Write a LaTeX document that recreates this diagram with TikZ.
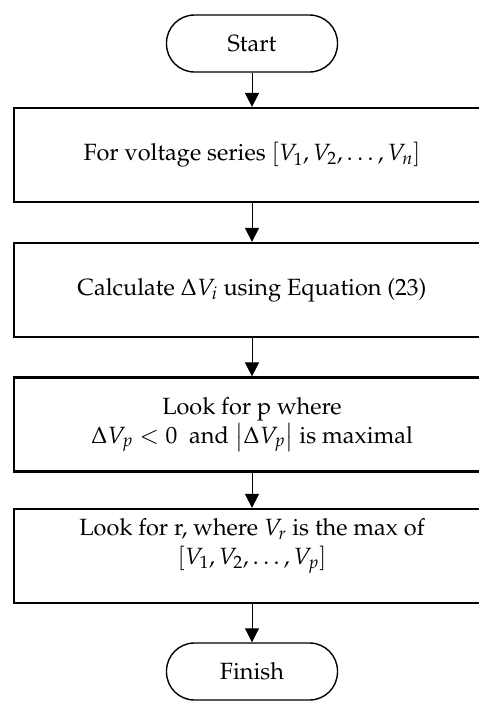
\documentclass[tikz,border=0pt]{standalone}
\usepackage[T1]{fontenc}
\usepackage{mathpazo}
\usepackage{amsmath,amssymb}
\usepackage{xcolor}
\usepackage{tikz}
\usetikzlibrary{arrows.meta, positioning}

\begin{document}
\begin{tikzpicture}[
    x=1pt, y=-1pt,
    font=\fontsize{23.5}{29}\selectfont,
    term/.style={rectangle, rounded corners=28pt, draw=black, line width=1.4pt,
                 minimum width=171pt, minimum height=57pt, align=center},
    proc/.style={rectangle, draw=black, line width=2.2pt,
                 minimum width=476pt, minimum height=94pt, align=center},
    arr/.style={-{Triangle[length=14pt, width=14pt]}, line width=1pt, black}
  ]
    \clip (0,0) rectangle (479,702);

    %% ── Terminals and process steps
    \node[term] (start)  at (252, 43.5)  {Start};
    \node[proc] (series) at (252, 155)   {For voltage series $[V_1,V_2,\ldots,V_n]$};
    \node[proc] (calc)   at (252, 290)   {Calculate $\Delta V_i$ using Equation (23)};
    \node[proc] (findp)  at (252, 424.5) {Look for p where\\
          $\Delta V_p<0$\ \ and $\left|\Delta V_p\right|$ is maximal};
    \node[proc] (findr)  at (252, 556)   {Look for r, where $V_r$ is the max of\\
          $[V_1,V_2,\ldots,V_p]$\\ \mbox{}};
    \node[term] (finish) at (252, 671.5) {Finish};

    %% Arrows: step -> step
    \draw[arr] (start)  -- (series);
    \draw[arr] (series) -- (calc);
    \draw[arr] (calc)   -- (findp);
    \draw[arr] (findp)  -- (findr);
    \draw[arr] (findr)  -- (finish);

  \end{tikzpicture}
\end{document}
